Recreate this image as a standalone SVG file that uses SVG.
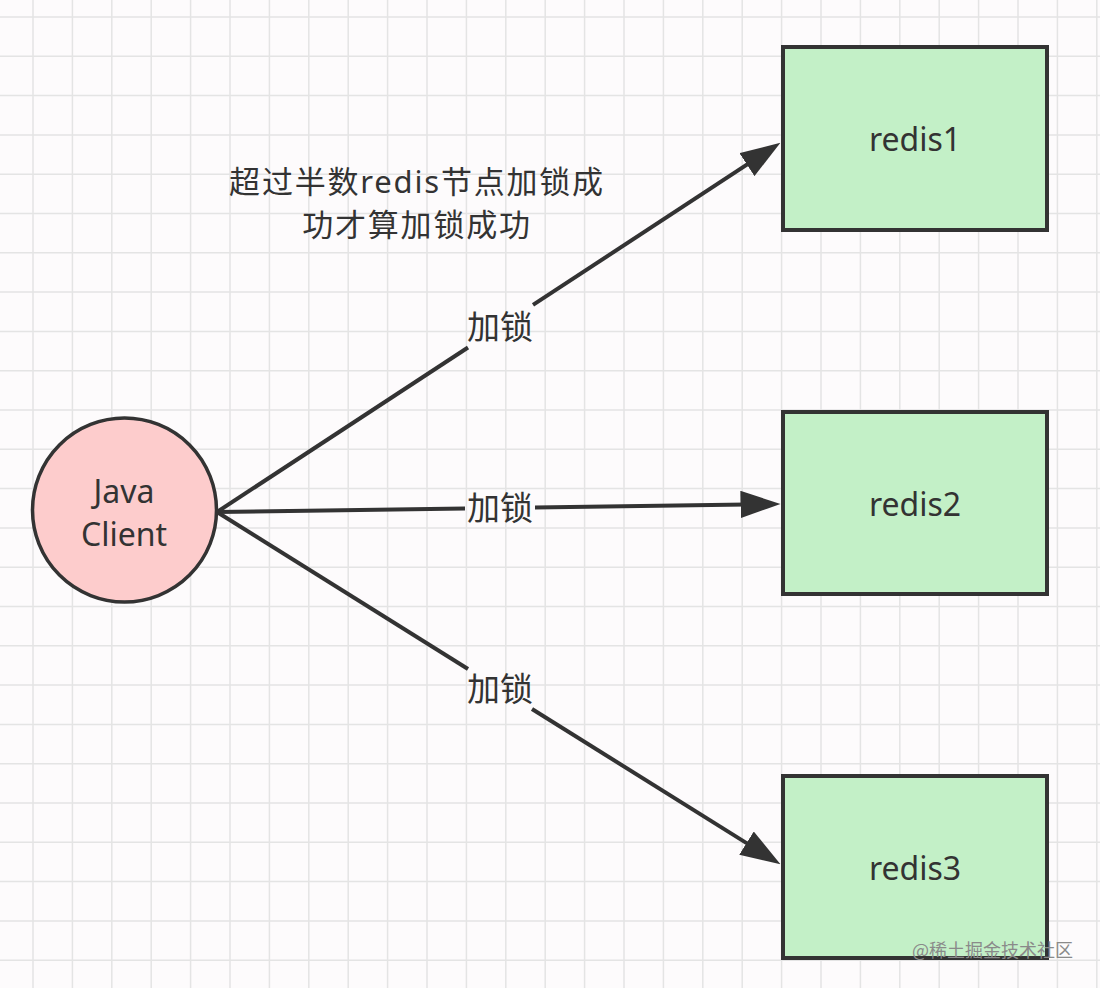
<svg xmlns="http://www.w3.org/2000/svg" width="1100" height="988" viewBox="0 0 1100 988">
  <defs>
    <style>
      .bg { fill: #fdfbfc; }
      .grid { fill: none; stroke: #e4e4e4; stroke-width: 1.5; }
      .box { fill: #c3f0c7; stroke: #333333; stroke-width: 4; }
      .client { fill: #fdcccc; stroke: #333333; stroke-width: 3.5; }
      .lbl { font-family: "Noto Sans", "Noto Sans CJK SC", sans-serif; fill: #333333; text-anchor: middle; }
      .node-text { font-size: 32px; }
      .edge-text { font-size: 33px; }
      .note-text { font-size: 31px; letter-spacing: 1.8px; }
      .edge { fill: none; stroke: #333333; stroke-width: 4; }
      .wm { font-family: "Noto Sans CJK SC", sans-serif; font-size: 18px; fill: #8a8a8a; }
    </style>
    <marker id="arrow" markerUnits="userSpaceOnUse" markerWidth="40" markerHeight="28" viewBox="0 0 38 26" refX="28" refY="13" orient="auto">
      <path d="M0,0 L38,13 L0,26 Z" fill="#333333"/>
    </marker>
  </defs>

  <rect class="bg" x="0" y="0" width="1100" height="988"/>
  <path class="grid" d="M33,0V988 M72.4,0V988 M111.8,0V988 M151.2,0V988 M190.6,0V988 M230,0V988 M269.4,0V988 M308.8,0V988 M348.2,0V988 M387.6,0V988 M427,0V988 M466.4,0V988 M505.8,0V988 M545.2,0V988 M584.6,0V988 M624,0V988 M663.4,0V988 M702.8,0V988 M742.2,0V988 M781.6,0V988 M821,0V988 M860.4,0V988 M899.8,0V988 M939.2,0V988 M978.6,0V988 M1018,0V988 M1057.4,0V988 M1096.8,0V988
    M0,17H1100 M0,56.3H1100 M0,95.6H1100 M0,134.9H1100 M0,174.2H1100 M0,213.5H1100 M0,252.8H1100 M0,292.1H1100 M0,331.4H1100 M0,370.7H1100 M0,410H1100 M0,449.3H1100 M0,488.6H1100 M0,527.9H1100 M0,567.2H1100 M0,606.5H1100 M0,645.8H1100 M0,685.1H1100 M0,724.4H1100 M0,763.7H1100 M0,803H1100 M0,842.3H1100 M0,881.6H1100 M0,920.9H1100 M0,960.2H1100"/>

  <g id="connectors">
    <path class="edge" d="M217,512 L468,347.5"/>
    <path class="edge" d="M533,304.9 L771.6,148.5" marker-end="url(#arrow)"/>
    <path class="edge" d="M217,512 L465,508.5"/>
    <path class="edge" d="M535,507.5 L770,504.1" marker-end="url(#arrow)"/>
    <path class="edge" d="M217,512 L468,669"/>
    <path class="edge" d="M532,709 L771.5,858.7" marker-end="url(#arrow)"/>
    <text class="lbl edge-text" x="500" y="339">加锁</text>
    <text class="lbl edge-text" x="500" y="520">加锁</text>
    <text class="lbl edge-text" x="500" y="701">加锁</text>
  </g>

  <g id="note">
    <text class="lbl note-text" x="417" y="192.5">超过半数redis节点加锁成</text>
    <text class="lbl note-text" x="417" y="235.5">功才算加锁成功</text>
  </g>

  <g id="java-client">
    <circle class="client" cx="124.5" cy="510" r="92"/>
    <text class="lbl node-text" x="124" y="503">Java<tspan x="124" dy="43">Client</tspan></text>
  </g>

  <g id="redis1">
    <rect class="box" x="783" y="47" width="264" height="183"/>
    <text class="lbl node-text" x="915" y="151">redis1</text>
  </g>

  <g id="redis2">
    <rect class="box" x="783" y="412" width="264" height="182"/>
    <text class="lbl node-text" x="915" y="516">redis2</text>
  </g>

  <g id="redis3">
    <rect class="box" x="783" y="776" width="264" height="182"/>
    <text class="lbl node-text" x="915" y="880">redis3</text>
  </g>

  <text class="wm" x="912" y="957">@稀土掘金技术社区</text>
</svg>
